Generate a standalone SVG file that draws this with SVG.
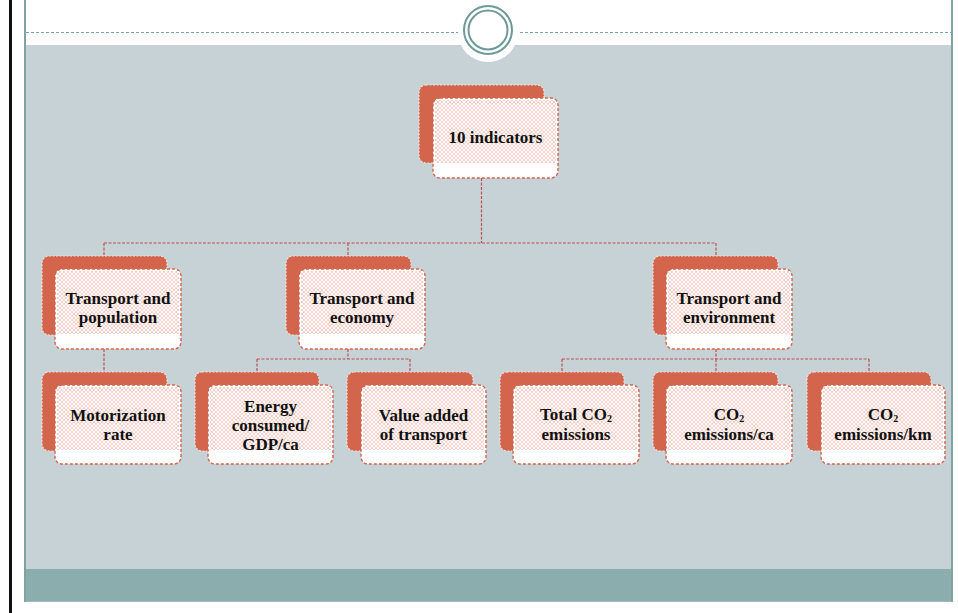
<svg xmlns="http://www.w3.org/2000/svg" width="958" height="613" viewBox="0 0 958 613">
<defs>
<pattern id="hatch" width="4" height="4" patternUnits="userSpaceOnUse">
<rect width="4" height="4" fill="#ffffff"/>
<path d="M0,0 L4,4 M4,0 L0,4" stroke="#eebcb1" stroke-width="0.7"/>
</pattern>
<style>
.back{fill:#d2654b;stroke:#f3ddd6;stroke-width:1.2;stroke-dasharray:2 1.5}
.front{fill:#ffffff;stroke:#d2654b;stroke-width:1.4;stroke-dasharray:3 2}
.hat{fill:url(#hatch)}
.lbl{font-family:"Liberation Serif","DejaVu Serif",serif;font-weight:bold;font-size:17px;fill:#111111;text-anchor:middle}
.sub{font-size:10px}
.conn{fill:none;stroke:#c0504d;stroke-width:1.2;stroke-dasharray:3 1.5}
.frame{stroke:#7fa3a3}
</style>
</defs>
<rect width="958" height="613" fill="#ffffff"/>
<rect x="9" y="0" width="3" height="613" fill="#111111"/>
<rect x="25" y="45" width="927" height="524" fill="#c7d2d7"/>
<rect x="25" y="569" width="928" height="32" fill="#8badae"/>
<line x1="25" y1="601.5" x2="953" y2="601.5" stroke="#9fb9ba" stroke-width="1"/>
<line class="frame" x1="25" y1="0" x2="25" y2="602" stroke-width="2"/>
<line class="frame" x1="952" y1="0" x2="952" y2="602" stroke-width="2"/>
<line class="frame" x1="26" y1="32.5" x2="461" y2="32.5" stroke-width="1.2" stroke-dasharray="3 2"/>
<line class="frame" x1="515" y1="32.5" x2="951" y2="32.5" stroke-width="1.2" stroke-dasharray="3 2"/>
<circle cx="488" cy="32" r="30" fill="#ffffff"/>
<circle cx="488" cy="30" r="24" fill="none" stroke="#6f9a9a" stroke-width="2"/>
<circle cx="488" cy="30" r="19.5" fill="none" stroke="#6f9a9a" stroke-width="2"/>

<g id="connectors">
<path class="conn" d="M481.5,178 V243 M104,243 H716 M104,243 V256 M348,243 V256 M716,243 V256"/>
<path class="conn" d="M104,349 V372"/>
<path class="conn" d="M348,349 V359 M257,359 H410 M257,359 V372 M410,359 V372"/>
<path class="conn" d="M716,349 V359 M562,359 H869 M562,359 V372 M716,359 V372 M869,359 V372"/>
</g>

<g id="n-root">
<rect class="back" x="419" y="85" width="125" height="78" rx="7"/>
<rect class="front" x="433" y="98" width="125" height="80" rx="7"/>
<rect class="hat" x="435" y="100" width="121" height="63"/>
<text class="lbl" x="495.5" y="143">10 indicators</text>
</g>

<g id="n-population">
<rect class="back" x="42" y="256" width="125" height="79" rx="7"/>
<rect class="front" x="55" y="269" width="126" height="80" rx="7"/>
<rect class="hat" x="57" y="271" width="122" height="63"/>
<text class="lbl" x="118" y="304">Transport and</text>
<text class="lbl" x="118" y="323">population</text>
</g>

<g id="n-economy">
<rect class="back" x="286" y="256" width="125" height="79" rx="7"/>
<rect class="front" x="299" y="269" width="126" height="80" rx="7"/>
<rect class="hat" x="301" y="271" width="122" height="63"/>
<text class="lbl" x="362" y="304">Transport and</text>
<text class="lbl" x="362" y="323">economy</text>
</g>

<g id="n-environment">
<rect class="back" x="653" y="256" width="125" height="79" rx="7"/>
<rect class="front" x="666" y="269" width="126" height="80" rx="7"/>
<rect class="hat" x="668" y="271" width="122" height="63"/>
<text class="lbl" x="729" y="304">Transport and</text>
<text class="lbl" x="729" y="323">environment</text>
</g>

<g id="n-motorization">
<rect class="back" x="42" y="372" width="125" height="79" rx="7"/>
<rect class="front" x="55" y="385" width="126" height="79" rx="7"/>
<rect class="hat" x="57" y="387" width="122" height="63"/>
<text class="lbl" x="118" y="421">Motorization</text>
<text class="lbl" x="118" y="440">rate</text>
</g>

<g id="n-energy">
<rect class="back" x="195" y="372" width="124" height="79" rx="7"/>
<rect class="front" x="208" y="385" width="125" height="79" rx="7"/>
<rect class="hat" x="210" y="387" width="121" height="63"/>
<text class="lbl" x="270.5" y="412">Energy</text>
<text class="lbl" x="270.5" y="431">consumed/</text>
<text class="lbl" x="270.5" y="450">GDP/ca</text>
</g>

<g id="n-value">
<rect class="back" x="347" y="372" width="126" height="79" rx="7"/>
<rect class="front" x="361" y="385" width="125" height="79" rx="7"/>
<rect class="hat" x="363" y="387" width="121" height="63"/>
<text class="lbl" x="423.5" y="421">Value added</text>
<text class="lbl" x="423.5" y="440">of transport</text>
</g>

<g id="n-totalco2">
<rect class="back" x="500" y="372" width="124" height="79" rx="7"/>
<rect class="front" x="513" y="385" width="126" height="79" rx="7"/>
<rect class="hat" x="515" y="387" width="122" height="63"/>
<text class="lbl" x="576" y="420">Total CO<tspan class="sub" dy="2">2</tspan></text>
<text class="lbl" x="576" y="440">emissions</text>
</g>

<g id="n-co2ca">
<rect class="back" x="653" y="372" width="125" height="79" rx="7"/>
<rect class="front" x="666" y="385" width="126" height="79" rx="7"/>
<rect class="hat" x="668" y="387" width="122" height="63"/>
<text class="lbl" x="729" y="420">CO<tspan class="sub" dy="2">2</tspan></text>
<text class="lbl" x="729" y="440">emissions/ca</text>
</g>

<g id="n-co2km">
<rect class="back" x="807" y="372" width="124" height="79" rx="7"/>
<rect class="front" x="821" y="385" width="124" height="79" rx="7"/>
<rect class="hat" x="823" y="387" width="120" height="63"/>
<text class="lbl" x="883" y="420">CO<tspan class="sub" dy="2">2</tspan></text>
<text class="lbl" x="883" y="440">emissions/km</text>
</g>
</svg>
